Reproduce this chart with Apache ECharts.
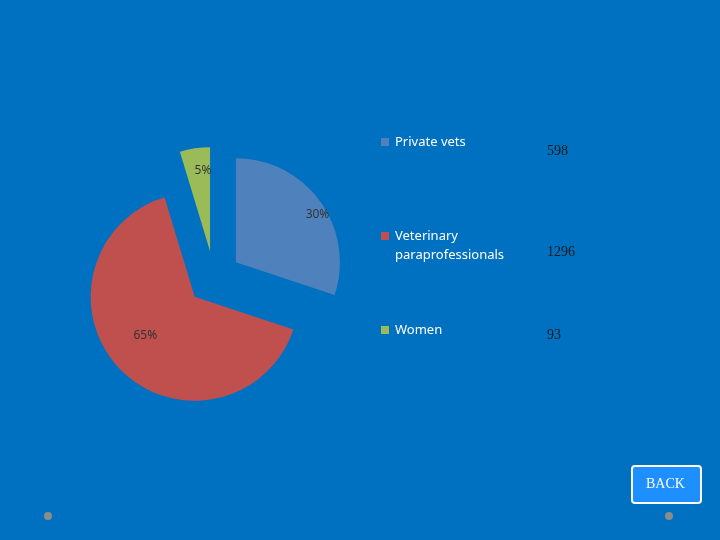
<!DOCTYPE html>
<html><head><meta charset="utf-8">
<script src="https://cdn.jsdelivr.net/npm/echarts@6/dist/echarts.min.js"></script>
<style>html,body{margin:0;padding:0;background:#0070c0}#chart{width:720px;height:540px}</style>
</head><body><div id="chart"></div>
<script>
const categories = ['Private vets', 'Veterinary\nparaprofessionals', 'Women'];
const values = [598, 1296, 93];
const percents = ['30%', '65%', '5%'];
const colors = ['#4f81bd', '#c0504d', '#9bbb59'];
const legendY = [142, 236, 330];
const valueY = [152, 253, 336];
const labelPadding = [[0, 0, 0, 74], [0, 20, 0, 0], [0, 0, 0, 2]];
const labelLift = [30, 0, 52];

const chart = echarts.init(document.getElementById('chart'));
chart.setOption({
    backgroundColor: '#0070c0',
    animation: false,
    series: [{
        type: 'pie', center: [214, 278], radius: [0, 104], startAngle: 90, clockwise: true,
        selectedMode: 'multiple', selectedOffset: 27, emphasis: { disabled: true }, silent: true,
        label: {
            position: 'inside', color: '#333', fontFamily: 'Noto Sans', fontSize: 12,
            formatter: p => labelLift[p.dataIndex] ? `{t|${percents[p.dataIndex]}}\n{s|}` : percents[p.dataIndex]
        },
        data: categories.map((c, i) => ({
            name: c, value: values[i], selected: true, itemStyle: { color: colors[i] },
            label: {
                padding: labelPadding[i],
                rich: { t: { color: '#333', fontFamily: 'Noto Sans', fontSize: 12 }, s: { height: labelLift[i], lineHeight: labelLift[i] } }
            }
        }))
    }],
    graphic: [
        ...categories.map((c, i) => ({
            type: 'rect', shape: { x: 381, y: legendY[i] - 4, width: 8, height: 8 }, style: { fill: colors[i] }
        })),
        ...categories.map((c, i) => ({
            type: 'text', left: 395, top: legendY[i] - 9,
            style: { text: c, fill: '#fff', font: '13px "Noto Sans"', lineHeight: 19 }
        })),
        ...values.map((v, i) => ({
            type: 'text', left: 547, top: valueY[i] - 8,
            style: { text: String(v), fill: '#1a1a1a', font: '14px "Liberation Serif"' }
        })),
        { type: 'rect', shape: { x: 632, y: 466, width: 69, height: 37, r: 3 }, style: { fill: '#1e8fff', stroke: '#fff', lineWidth: 2 } },
        { type: 'text', left: 646, top: 477, style: { text: 'BACK', fill: '#fff', font: '14px "Liberation Serif"' } },
        { type: 'circle', shape: { cx: 48, cy: 516, r: 4 }, style: { fill: '#8c8c8c' } },
        { type: 'circle', shape: { cx: 669, cy: 516, r: 4 }, style: { fill: '#8c8c8c' } }
    ]
});
</script></body></html>
